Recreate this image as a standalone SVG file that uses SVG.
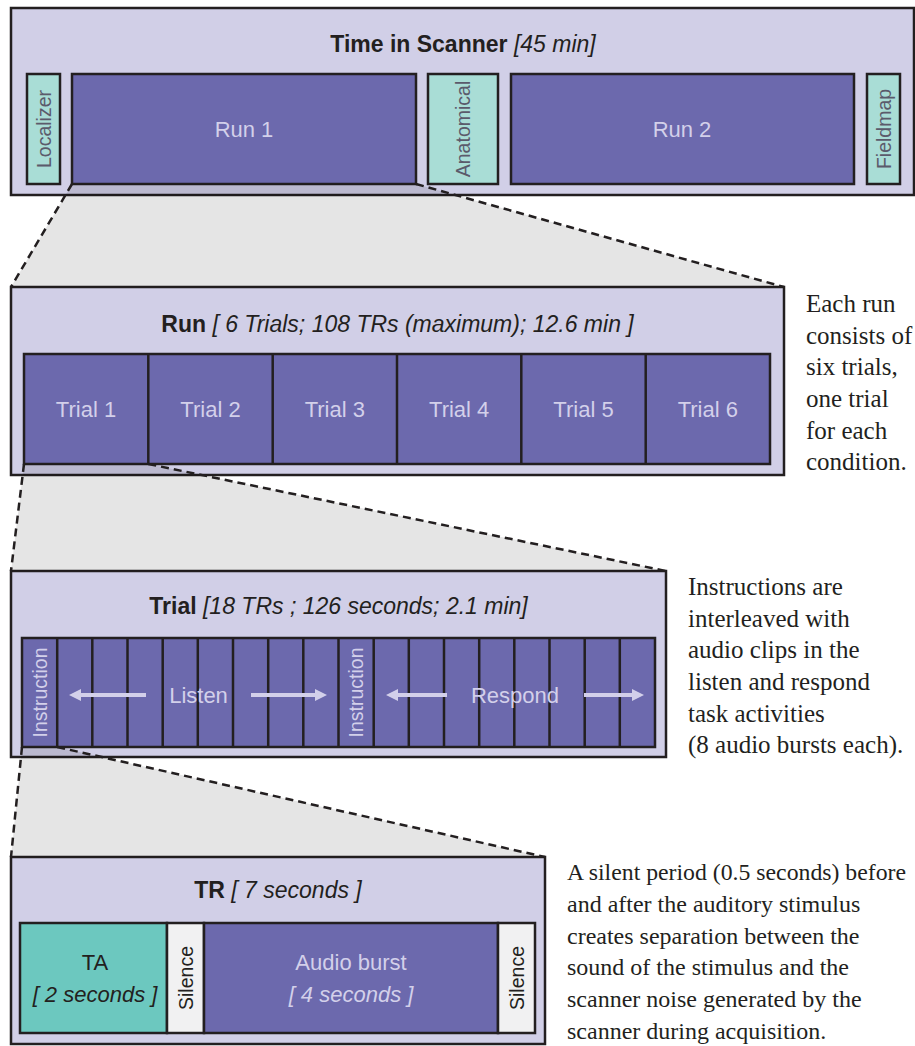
<svg xmlns="http://www.w3.org/2000/svg" width="915" height="1046" viewBox="0 0 915 1046">
  <style>
    .panel { fill: #d1cfe7; stroke: #231f20; stroke-width: 2.5; }
    .box { fill: #6c69ad; stroke: #231f20; stroke-width: 2.5; }
    .teal { fill: #a9ddd6; stroke: #231f20; stroke-width: 2.5; }
    .ta { fill: #6cc8bf; stroke: #231f20; stroke-width: 2.5; }
    .sil { fill: #f1f1f2; stroke: #231f20; stroke-width: 2.5; }
    .div { stroke: #231f20; stroke-width: 2.5; }
    .title { font-family: "Liberation Sans", Arial, sans-serif; font-size: 23px; fill: #231f20; text-anchor: middle; }
    .b { font-weight: bold; }
    .i { font-style: italic; }
    .lbl { font-family: "Liberation Sans", Arial, sans-serif; font-size: 22px; fill: #d3d0ea; text-anchor: middle; }
    .dark { fill: #231f20; }
    .vert { font-family: "Liberation Sans", Arial, sans-serif; font-size: 19.5px; text-anchor: middle; }
    .note { font-family: "Liberation Serif", "Times New Roman", serif; font-size: 25px; fill: #231f20; }
    .small { font-size: 24px; }
    .zoom { fill: #000; fill-opacity: 0.1; stroke: none; }
    .dash { fill: none; stroke: #231f20; stroke-width: 2.5; stroke-dasharray: 8 5; }
    .arrow { stroke: #d3d0ea; stroke-width: 4; }
    .head { fill: #d3d0ea; }
  </style>

  <!-- Scanner session overview -->
  <g id="scanner">
    <rect class="panel" x="11" y="8" width="903" height="187"/>
    <text class="title" x="463" y="52"><tspan class="b">Time in Scanner</tspan> <tspan class="i">[45 min]</tspan></text>
    <g id="localizer">
      <rect class="teal" x="27" y="74" width="33" height="110"/>
      <text class="vert" fill="#5b5a6b" transform="translate(43.5,129) rotate(-90)" dy="7">Localizer</text>
    </g>
    <g id="run1">
      <rect class="box" x="72" y="74" width="344" height="110"/>
      <text class="lbl" x="244" y="137">Run 1</text>
    </g>
    <g id="anatomical">
      <rect class="teal" x="428" y="74" width="70" height="110"/>
      <text class="vert" fill="#5b5a6b" transform="translate(463,129) rotate(-90)" dy="7">Anatomical</text>
    </g>
    <g id="run2">
      <rect class="box" x="511" y="74" width="343" height="110"/>
      <text class="lbl" x="682" y="137">Run 2</text>
    </g>
    <g id="fieldmap">
      <rect class="teal" x="867" y="74" width="33" height="110"/>
      <text class="vert" fill="#5b5a6b" transform="translate(883.5,129) rotate(-90)" dy="7">Fieldmap</text>
    </g>
  </g>

  <!-- One run: six trials -->
  <g id="run">
    <rect class="panel" x="11" y="287" width="773" height="188"/>
    <text class="title" x="397.5" y="332"><tspan class="b">Run</tspan> <tspan class="i">[ 6 Trials; 108 TRs (maximum); 12.6 min ]</tspan></text>
    <rect class="box" x="24" y="354" width="746" height="110"/>
    <line class="div" x1="148.3" y1="354" x2="148.3" y2="464"/>
    <line class="div" x1="272.7" y1="354" x2="272.7" y2="464"/>
    <line class="div" x1="397" y1="354" x2="397" y2="464"/>
    <line class="div" x1="521.3" y1="354" x2="521.3" y2="464"/>
    <line class="div" x1="645.7" y1="354" x2="645.7" y2="464"/>
    <g id="trial1"><text class="lbl" x="86" y="417">Trial 1</text></g>
    <g id="trial2"><text class="lbl" x="210.5" y="417">Trial 2</text></g>
    <g id="trial3"><text class="lbl" x="334.8" y="417">Trial 3</text></g>
    <g id="trial4"><text class="lbl" x="459.2" y="417">Trial 4</text></g>
    <g id="trial5"><text class="lbl" x="583.5" y="417">Trial 5</text></g>
    <g id="trial6"><text class="lbl" x="707.8" y="417">Trial 6</text></g>
  </g>
  <text class="note" x="806" y="312">Each run</text>
  <text class="note" x="806" y="343.5">consists of</text>
  <text class="note" x="806" y="375">six trials,</text>
  <text class="note" x="806" y="407">one trial</text>
  <text class="note" x="806" y="438.5">for each</text>
  <text class="note" x="806" y="470">condition.</text>

  <!-- One trial: 18 TRs -->
  <g id="trial">
    <rect class="panel" x="11" y="571" width="655" height="186"/>
    <text class="title" x="338.5" y="614"><tspan class="b">Trial</tspan> <tspan class="i">[18 TRs ; 126 seconds; 2.1 min]</tspan></text>
    <rect class="box" x="22" y="638" width="633" height="109"/>
    <g class="div">
      <line x1="57.2" y1="638" x2="57.2" y2="747"/>
      <line x1="92.3" y1="638" x2="92.3" y2="747"/>
      <line x1="127.5" y1="638" x2="127.5" y2="747"/>
      <line x1="162.7" y1="638" x2="162.7" y2="747"/>
      <line x1="197.8" y1="638" x2="197.8" y2="747"/>
      <line x1="233" y1="638" x2="233" y2="747"/>
      <line x1="268.2" y1="638" x2="268.2" y2="747"/>
      <line x1="303.3" y1="638" x2="303.3" y2="747"/>
      <line x1="338.5" y1="638" x2="338.5" y2="747"/>
      <line x1="373.7" y1="638" x2="373.7" y2="747"/>
      <line x1="408.8" y1="638" x2="408.8" y2="747"/>
      <line x1="444" y1="638" x2="444" y2="747"/>
      <line x1="479.2" y1="638" x2="479.2" y2="747"/>
      <line x1="514.3" y1="638" x2="514.3" y2="747"/>
      <line x1="549.5" y1="638" x2="549.5" y2="747"/>
      <line x1="584.7" y1="638" x2="584.7" y2="747"/>
      <line x1="619.8" y1="638" x2="619.8" y2="747"/>
    </g>
    <g id="instruction1">
      <text class="vert" fill="#d3d0ea" transform="translate(40,692.5) rotate(-90)" dy="7">Instruction</text>
    </g>
    <g id="instruction2">
      <text class="vert" fill="#d3d0ea" transform="translate(356,692.5) rotate(-90)" dy="7">Instruction</text>
    </g>
    <g id="listen">
      <text class="lbl" x="198.5" y="703" font-size="23">Listen</text>
      <line class="arrow" x1="146" y1="695" x2="80" y2="695"/>
      <polygon class="head" points="69,695 81,689 81,701"/>
      <line class="arrow" x1="251" y1="695" x2="316" y2="695"/>
      <polygon class="head" points="327,695 315,689 315,701"/>
    </g>
    <g id="respond">
      <text class="lbl" x="515" y="703" font-size="23">Respond</text>
      <line class="arrow" x1="447" y1="695" x2="397" y2="695"/>
      <polygon class="head" points="386,695 398,689 398,701"/>
      <line class="arrow" x1="584" y1="695" x2="633" y2="695"/>
      <polygon class="head" points="644,695 632,689 632,701"/>
    </g>
  </g>
  <text class="note" x="688" y="595">Instructions are</text>
  <text class="note" x="688" y="626.5">interleaved with</text>
  <text class="note" x="688" y="658">audio clips in the</text>
  <text class="note" x="688" y="690">listen and respond</text>
  <text class="note" x="688" y="721.5">task activities</text>
  <text class="note" x="688" y="753">(8 audio bursts each).</text>

  <!-- One TR: 7 seconds -->
  <g id="tr">
    <rect class="panel" x="11" y="857" width="534" height="187"/>
    <text class="title" x="278" y="898"><tspan class="b">TR</tspan> <tspan class="i">[ 7 seconds ]</tspan></text>
    <g id="ta">
      <rect class="ta" x="20" y="923" width="147" height="110"/>
      <text class="lbl dark" x="95" y="970">TA</text>
      <text class="lbl dark i" x="95" y="1002">[ 2 seconds ]</text>
    </g>
    <g id="silence1">
      <rect class="sil" x="167" y="923" width="37" height="110"/>
      <text class="vert" fill="#231f20" transform="translate(185.5,978) rotate(-90)" dy="7">Silence</text>
    </g>
    <g id="audio">
      <rect class="box" x="204" y="923" width="294" height="110"/>
      <text class="lbl" x="351" y="970">Audio burst</text>
      <text class="lbl i" x="351" y="1002">[ 4 seconds ]</text>
    </g>
    <g id="silence2">
      <rect class="sil" x="498" y="923" width="37" height="110"/>
      <text class="vert" fill="#231f20" transform="translate(516.5,978) rotate(-90)" dy="7">Silence</text>
    </g>
  </g>
  <text class="note small" x="567" y="880" textLength="339" lengthAdjust="spacingAndGlyphs">A silent period (0.5 seconds) before</text>
  <text class="note small" x="567" y="912">and after the auditory stimulus</text>
  <text class="note small" x="567" y="943.5">creates separation between the</text>
  <text class="note small" x="567" y="975">sound of the stimulus and the</text>
  <text class="note small" x="567" y="1007">scanner noise generated by the</text>
  <text class="note small" x="567" y="1039">scanner during acquisition.</text>

  <!-- Zoom-in wedges linking each level to the next -->
  <g id="connectors">
    <polygon class="zoom" points="72,184 416,184 784,287 11,287"/>
    <polyline class="dash" points="72,184 11,287"/>
    <polyline class="dash" points="416,184 784,287"/>
    <polygon class="zoom" points="24,464 148.3,464 666,571 11,571"/>
    <polyline class="dash" points="24,464 11,571"/>
    <polyline class="dash" points="148.3,464 666,571"/>
    <polygon class="zoom" points="22,747 57.2,747 545,857 11,857"/>
    <polyline class="dash" points="22,747 11,857"/>
    <polyline class="dash" points="57.2,747 545,857"/>
  </g>
</svg>
